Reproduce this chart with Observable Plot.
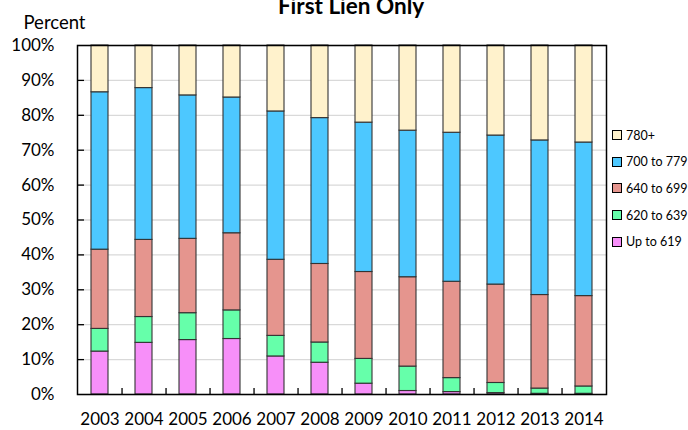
<!DOCTYPE html>
<html><head><meta charset="utf-8">
<script src="https://cdn.jsdelivr.net/npm/d3@7"></script>
<script src="https://cdn.jsdelivr.net/npm/@observablehq/plot@0.6"></script>
<style>
body{margin:0;background:#fff;font-family:Lato,"Open Sans",sans-serif;}
#wrap{position:relative;width:688px;height:430px;overflow:hidden;}
#legend{position:absolute;left:612px;top:122px;font-size:12.5px;color:#000;font-family:Lato,sans-serif;}
.item{display:flex;align-items:center;height:26.6px;white-space:nowrap;}
.sw{width:8px;height:8px;border:1px solid #000;margin-right:4px;box-sizing:content-box;}
</style></head><body><div id="wrap"></div>
<script>
const title = "First Lien Only";
const yLabel = "Percent";
const years = ["2003","2004","2005","2006","2007","2008","2009","2010","2011","2012","2013","2014"];
const bands = ["Up to 619","620 to 639","640 to 699","700 to 779","780+"];
const bandColors = ["#F78FF9","#66FFAA","#E5958E","#4DC8FF","#FFF2CC"];
const upTo619  = [12.3, 14.8, 15.6, 15.9, 10.9, 9.1, 3.1, 1.0, 0.7, 0.4, 0.2, 0.2];
const s620_639 = [6.5, 7.4, 7.7, 8.2, 5.9, 5.8, 7.1, 7.0, 4.0, 2.9, 1.5, 2.1];
const s640_699 = [22.7, 22.1, 21.3, 22.1, 21.8, 22.5, 24.9, 25.6, 27.6, 28.2, 26.8, 25.9];
const s700_779 = [45.1, 43.5, 41.1, 38.9, 42.5, 41.8, 42.8, 42.0, 42.7, 42.7, 44.3, 44.0];
const s780plus = [13.4, 12.2, 14.3, 14.9, 18.9, 20.8, 22.1, 24.4, 25.0, 25.8, 27.2, 27.8];
const yTicks = [0,10,20,30,40,50,60,70,80,90,100];

const seriesValues = [upTo619, s620_639, s640_699, s700_779, s780plus];
const data = [];
years.forEach((yr, i) => bands.forEach((b, j) => data.push({year: yr, band: b, value: seriesValues[j][i]})));

const W = 688, H = 430, mL = 77, mR = 82, mT = 45, mB = 36;
const frameW = W - mL - mR, frameH = H - mT - mB;
const step = frameW / years.length;

const chart = Plot.plot({
  width: W, height: H,
  marginLeft: mL, marginRight: mR, marginTop: mT, marginBottom: mB,
  style: {fontFamily: "Lato, sans-serif", fontSize: "17px", color: "#000", background: "#fff", overflow: "visible"},
  x: {domain: years, paddingInner: 0.614, paddingOuter: 0.307, align: 0.5, label: null},
  y: {domain: [0, 100], label: null},
  color: {domain: bands, range: bandColors},
  marks: [
    Plot.gridY(yTicks, {stroke: "#d9d9d9", strokeOpacity: 1, strokeWidth: 1.3}),
    Plot.barY(data, {x: "year", y: "value", fill: "band", order: bands, stroke: "#333", strokeWidth: 1.1}),
    Plot.frame({stroke: "#000", strokeWidth: 1.5}),
    Plot.tickY(yTicks.slice(1, -1), {y: d => d, stroke: "#000", strokeWidth: 1.3, insetRight: frameW - 7}),
    Plot.ruleX(years.slice(0, -1), {x: d => d, dx: step / 2, stroke: "#000", strokeWidth: 1.3, insetTop: frameH - 6}),
    Plot.axisY(yTicks, {tickSize: 0, tickPadding: 23, tickFormat: d => d + "%", fontSize: 17, label: null}),
    Plot.axisX(years, {tickSize: 0, tickPadding: 18, fontSize: 17, label: null}),
    Plot.text([title], {text: d => d, frameAnchor: "top", dx: 9, dy: -47, fontWeight: "bold", fontSize: 22.5}),
    Plot.text([yLabel], {text: d => d, frameAnchor: "top-left", dx: -54, dy: -30, textAnchor: "start", fontSize: 18.5})
  ]
});
const wrap = document.getElementById("wrap");
wrap.appendChild(chart);

const legend = document.createElement("div");
legend.id = "legend";
bands.slice().reverse().forEach(b => {
  const it = document.createElement("div");
  it.className = "item";
  const sw = document.createElement("span");
  sw.className = "sw";
  sw.style.background = bandColors[bands.indexOf(b)];
  const t = document.createElement("span");
  t.textContent = b;
  it.appendChild(sw); it.appendChild(t);
  legend.appendChild(it);
});
wrap.appendChild(legend);
</script></body></html>
